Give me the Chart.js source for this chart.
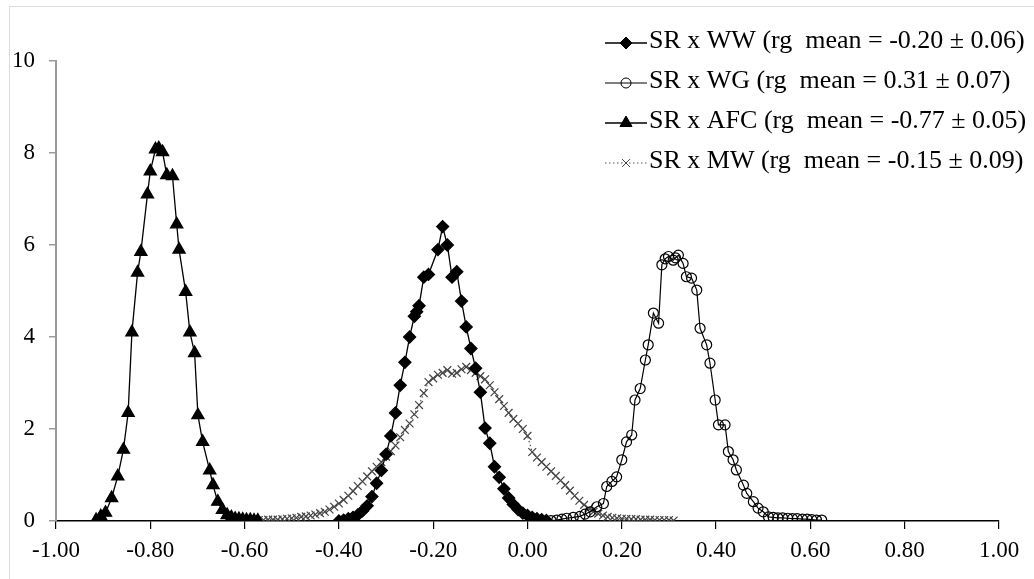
<!DOCTYPE html>
<html>
<head>
<meta charset="utf-8">
<script src="https://cdn.jsdelivr.net/npm/chart.js@4.4.1/dist/chart.umd.min.js"></script>
<style>
  body { margin: 0; background: #fff; }
  #wrap { position: relative; width: 1034px; height: 579px; overflow: hidden; }
  #frame { position: absolute; left: 9px; top: 6px; width: 1100px; height: 700px; border: 1px solid #dcdcdc; }
  canvas { position: absolute; left: 0; top: 0; }
</style>
</head>
<body>
<div id="wrap">
  <div id="frame"></div>
  <canvas id="myChart" width="1034" height="579"></canvas>
</div>
<script>
var labels = [
    'SR x WW (rg  mean = -0.20 \u00b1 0.06)',
    'SR x WG (rg  mean = 0.31 \u00b1 0.07)',
    'SR x AFC (rg  mean = -0.77 \u00b1 0.05)',
    'SR x MW (rg  mean = -0.15 \u00b1 0.09)'
];
var xTicks = ['-1.00', '-0.80', '-0.60', '-0.40', '-0.20', '0.00', '0.20', '0.40', '0.60', '0.80', '1.00'];
var yTicks = ['0', '2', '4', '6', '8', '10'];

var wwX = [-0.40, -0.39, -0.38, -0.37, -0.36, -0.35, -0.34, -0.33, -0.32, -0.31, -0.30, -0.29, -0.28, -0.27, -0.26, -0.25, -0.24, -0.235, -0.23, -0.22, -0.21, -0.19, -0.18, -0.17, -0.16, -0.15, -0.14, -0.13, -0.12, -0.11, -0.10, -0.09, -0.08, -0.07, -0.06, -0.05, -0.04, -0.03, -0.02, -0.01, 0.00, 0.01, 0.02, 0.03, 0.04];
var wwY = [0.00, 0.02, 0.05, 0.08, 0.13, 0.22, 0.33, 0.53, 0.82, 1.10, 1.45, 1.85, 2.35, 2.95, 3.45, 4.00, 4.45, 4.55, 4.68, 5.30, 5.36, 5.90, 6.40, 6.00, 5.30, 5.42, 4.78, 4.22, 3.75, 3.32, 2.80, 2.02, 1.69, 1.18, 0.95, 0.70, 0.50, 0.36, 0.25, 0.17, 0.12, 0.08, 0.05, 0.03, 0.01];

var wgX = [0.050, 0.062, 0.073, 0.083, 0.097, 0.111, 0.122, 0.133, 0.147, 0.161, 0.168, 0.179, 0.189, 0.200, 0.210, 0.221, 0.228, 0.239, 0.250, 0.256, 0.267, 0.278, 0.285, 0.292, 0.299, 0.309, 0.314, 0.320, 0.330, 0.337, 0.348, 0.359, 0.366, 0.380, 0.387, 0.398, 0.405, 0.419, 0.426, 0.436, 0.443, 0.458, 0.465, 0.479, 0.489, 0.500, 0.511, 0.521, 0.531, 0.541, 0.552, 0.562, 0.572, 0.583, 0.593, 0.603, 0.613, 0.624];
var wgY = [0.01, 0.02, 0.04, 0.06, 0.08, 0.10, 0.15, 0.20, 0.31, 0.38, 0.75, 0.86, 0.96, 1.33, 1.72, 1.87, 2.63, 2.88, 3.50, 3.83, 4.52, 4.30, 5.57, 5.70, 5.75, 5.67, 5.72, 5.78, 5.60, 5.31, 5.28, 5.02, 4.19, 3.83, 3.43, 2.63, 2.09, 2.09, 1.51, 1.33, 1.11, 0.78, 0.60, 0.42, 0.28, 0.20, 0.09, 0.08, 0.07, 0.07, 0.06, 0.05, 0.05, 0.04, 0.04, 0.03, 0.02, 0.02];

var afcX = [-0.915, -0.905, -0.895, -0.882, -0.869, -0.857, -0.847, -0.839, -0.827, -0.820, -0.806, -0.800, -0.789, -0.782, -0.774, -0.765, -0.753, -0.744, -0.739, -0.725, -0.716, -0.706, -0.699, -0.689, -0.674, -0.667, -0.657, -0.647, -0.637, -0.628, -0.620, -0.612, -0.604, -0.596, -0.588, -0.580, -0.572];
var afcY = [0.02, 0.10, 0.18, 0.50, 0.97, 1.55, 2.35, 4.10, 5.40, 5.85, 7.10, 7.60, 8.08, 8.10, 8.02, 7.52, 7.50, 6.45, 5.90, 4.98, 4.10, 3.65, 2.30, 1.72, 1.10, 0.78, 0.42, 0.24, 0.13, 0.08, 0.05, 0.04, 0.03, 0.02, 0.02, 0.01, 0.01];

var mwX = [-0.58, -0.57, -0.56, -0.55, -0.54, -0.53, -0.52, -0.51, -0.50, -0.49, -0.48, -0.47, -0.46, -0.45, -0.44, -0.43, -0.42, -0.41, -0.40, -0.39, -0.38, -0.37, -0.36, -0.35, -0.34, -0.33, -0.32, -0.31, -0.30, -0.29, -0.28, -0.27, -0.26, -0.25, -0.24, -0.23, -0.22, -0.21, -0.20, -0.19, -0.18, -0.17, -0.16, -0.15, -0.14, -0.13, -0.12, -0.11, -0.10, -0.09, -0.08, -0.07, -0.06, -0.05, -0.04, -0.03, -0.02, -0.01, 0.00, 0.01, 0.02, 0.03, 0.04, 0.05, 0.06, 0.07, 0.08, 0.09, 0.10, 0.11, 0.12, 0.13, 0.14, 0.15, 0.16, 0.17, 0.18, 0.19, 0.20, 0.21, 0.22, 0.23, 0.24, 0.25, 0.26, 0.27, 0.28, 0.29, 0.30, 0.31];
var mwY = [0.02, 0.02, 0.02, 0.03, 0.03, 0.03, 0.04, 0.05, 0.06, 0.07, 0.09, 0.10, 0.12, 0.14, 0.17, 0.20, 0.25, 0.31, 0.38, 0.46, 0.55, 0.65, 0.76, 0.86, 0.97, 1.08, 1.18, 1.28, 1.40, 1.52, 1.64, 1.82, 1.98, 2.12, 2.32, 2.52, 2.78, 3.02, 3.10, 3.18, 3.22, 3.28, 3.20, 3.22, 3.30, 3.35, 3.28, 3.22, 3.15, 3.08, 2.95, 2.80, 2.65, 2.50, 2.35, 2.22, 2.12, 2.00, 1.85, 1.50, 1.38, 1.28, 1.18, 1.08, 0.98, 0.88, 0.78, 0.66, 0.55, 0.44, 0.35, 0.27, 0.20, 0.16, 0.12, 0.09, 0.07, 0.06, 0.05, 0.05, 0.04, 0.04, 0.03, 0.03, 0.03, 0.02, 0.02, 0.02, 0.02, 0.01];

function pts(xs, ys) {
    return xs.map((x, i) => ({ x: x, y: ys[i] }));
}

// legend drawn inside the plot, top right
const legendBox = {
    id: 'legendBox',
    afterDraw(chart) {
        const ctx = chart.ctx;
        const dp = Chart.helpers && Chart.helpers.drawPoint;
        ctx.save();
        chart.data.datasets.forEach((ds, i) => {
            const y = 43 + i * 40;
            ctx.strokeStyle = ds.borderColor;
            ctx.lineWidth = ds.borderWidth;
            ctx.setLineDash(ds.borderDash || []);
            ctx.beginPath();
            ctx.moveTo(605, y);
            ctx.lineTo(647, y);
            ctx.stroke();
            ctx.setLineDash([]);
            ctx.fillStyle = ds.pointBackgroundColor;
            ctx.strokeStyle = ds.pointBorderColor;
            ctx.lineWidth = 1;
            if (dp) {
                dp(ctx, { pointStyle: ds.pointStyle, radius: ds.pointRadius, rotation: 0, borderWidth: 1 }, 626, y);
            }
            ctx.fillStyle = '#000';
            ctx.font = '26px "Liberation Serif"';
            ctx.textBaseline = 'alphabetic';
            ctx.fillText(ds.label, 649, y + 5);
        });
        ctx.restore();
    }
};

const ctx = document.getElementById('myChart');
new Chart(ctx, {
    type: 'line',
    data: {
        datasets: [{
            label: labels[0],
            data: pts(wwX, wwY),
            borderColor: '#000',
            borderWidth: 1.3,
            pointStyle: 'rectRot',
            pointRadius: 6,
            pointBackgroundColor: '#000',
            pointBorderColor: '#000'
        }, {
            label: labels[1],
            data: pts(wgX, wgY),
            borderColor: '#000',
            borderWidth: 1.2,
            pointStyle: 'circle',
            pointRadius: 5,
            pointBackgroundColor: 'rgba(0,0,0,0)',
            pointBorderColor: '#000'
        }, {
            label: labels[2],
            data: pts(afcX, afcY),
            borderColor: '#000',
            borderWidth: 1.3,
            pointStyle: 'triangle',
            pointRadius: 7,
            pointBackgroundColor: '#000',
            pointBorderColor: '#000'
        }, {
            label: labels[3],
            data: pts(mwX, mwY),
            borderColor: '#555',
            borderWidth: 1.2,
            borderDash: [1.5, 2.5],
            pointStyle: 'crossRot',
            pointRadius: 5.5,
            pointBackgroundColor: '#444',
            pointBorderColor: '#444'
        }]
    },
    options: {
        responsive: false,
        animation: false,
        events: [],
        layout: { padding: { left: 0, top: 61, right: 35, bottom: 0 } },
        plugins: { legend: { display: false }, tooltip: { enabled: false } },
        elements: { line: { tension: 0 }, point: { borderWidth: 1, hoverRadius: 0 } },
        scales: {
            x: {
                type: 'linear',
                min: -1,
                max: 1,
                afterFit: (s) => { s.height = 58; },
                afterBuildTicks: (s) => { s.ticks = xTicks.map(t => ({ value: parseFloat(t) })); },
                ticks: {
                    autoSkip: false,
                    maxRotation: 0,
                    padding: 8,
                    color: '#000',
                    font: { family: 'Liberation Serif', size: 23 },
                    callback: (v, i) => xTicks[i]
                },
                grid: { drawOnChartArea: false, color: '#000', tickLength: 8, lineWidth: 1.2 },
                border: { color: '#000', width: 1.5 }
            },
            y: {
                min: 0,
                max: 10,
                afterFit: (s) => { s.width = 56; },
                afterBuildTicks: (s) => { s.ticks = yTicks.map(t => ({ value: parseFloat(t) })); },
                ticks: {
                    padding: 14,
                    color: '#000',
                    font: { family: 'Liberation Serif', size: 23 },
                    callback: (v, i) => yTicks[i]
                },
                grid: { drawOnChartArea: false, color: '#9a9a9a', tickLength: 7, lineWidth: 1.5 },
                border: { color: '#9a9a9a', width: 2 }
            }
        }
    },
    plugins: [legendBox]
});
</script>
</body>
</html>
